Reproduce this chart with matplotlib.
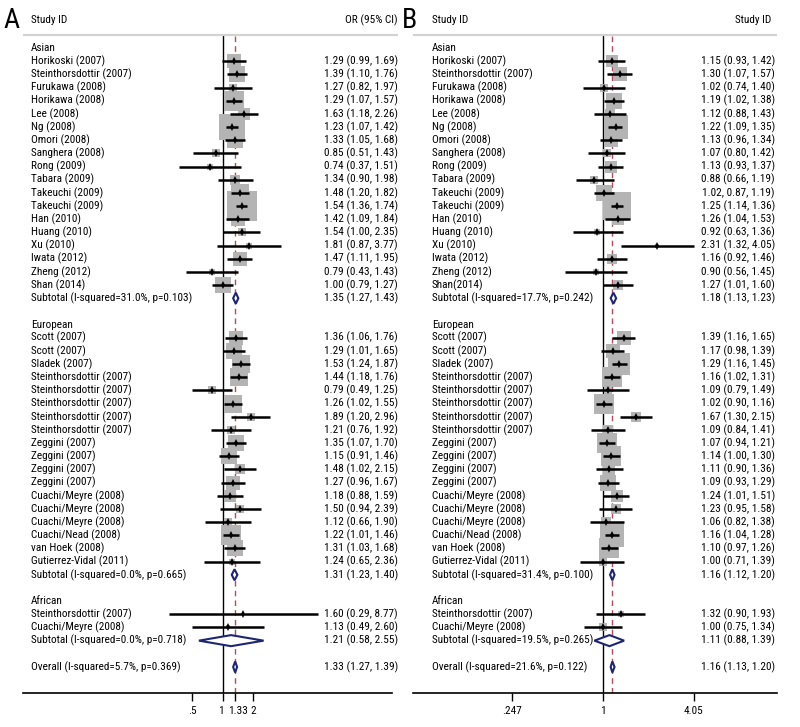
import numpy as np
import matplotlib
matplotlib.use('Agg')
import matplotlib.pyplot as plt
from matplotlib.patches import Polygon
import matplotlib.transforms as mtransforms
from matplotlib import font_manager as fm

# ---------------- Data: Panel A ----------------
A_asian_names = ['Horikoski (2007)', 'Steinthorsdottir (2007)', 'Furukawa (2008)', 'Horikawa (2008)',
                 'Lee (2008)', 'Ng (2008)', 'Omori (2008)', 'Sanghera (2008)', 'Rong (2009)',
                 'Tabara (2009)', 'Takeuchi (2009)', 'Takeuchi (2009)', 'Han (2010)', 'Huang (2010)',
                 'Xu (2010)', 'Iwata (2012)', 'Zheng (2012)', 'Shan (2014)']
A_asian_or = [1.29, 1.39, 1.27, 1.29, 1.63, 1.23, 1.33, 0.85, 0.74, 1.34, 1.48, 1.54, 1.42, 1.54, 1.81, 1.47, 0.79, 1.00]
A_asian_lo = [0.99, 1.10, 0.82, 1.07, 1.18, 1.07, 1.05, 0.51, 0.37, 0.90, 1.20, 1.36, 1.09, 1.00, 0.87, 1.11, 0.43, 0.79]
A_asian_hi = [1.69, 1.76, 1.97, 1.57, 2.26, 1.42, 1.68, 1.43, 1.51, 1.98, 1.82, 1.74, 1.84, 2.35, 3.77, 1.95, 1.43, 1.27]

A_euro_names = ['Scott (2007)', 'Scott (2007)', 'Sladek (2007)', 'Steinthorsdottir (2007)',
                'Steinthorsdottir (2007)', 'Steinthorsdottir (2007)', 'Steinthorsdottir (2007)',
                'Steinthorsdottir (2007)', 'Zeggini (2007)', 'Zeggini (2007)', 'Zeggini (2007)',
                'Zeggini (2007)', 'Cuachi/Meyre (2008)', 'Cuachi/Meyre (2008)', 'Cuachi/Meyre (2008)',
                'Cuachi/Nead (2008)', 'van Hoek (2008)', 'Gutierrez-Vidal (2011)']
A_euro_or = [1.36, 1.29, 1.53, 1.44, 0.79, 1.26, 1.89, 1.21, 1.35, 1.15, 1.48, 1.27, 1.18, 1.50, 1.12, 1.22, 1.31, 1.24]
A_euro_lo = [1.06, 1.01, 1.24, 1.18, 0.49, 1.02, 1.20, 0.76, 1.07, 0.91, 1.02, 0.96, 0.88, 0.94, 0.66, 1.01, 1.03, 0.65]
A_euro_hi = [1.76, 1.65, 1.87, 1.76, 1.25, 1.55, 2.96, 1.92, 1.70, 1.46, 2.15, 1.67, 1.59, 2.39, 1.90, 1.46, 1.68, 2.36]

A_afr_names = ['Steinthorsdottir (2007)', 'Cuachi/Meyre (2008)']
A_afr_or = [1.60, 1.13]
A_afr_lo = [0.29, 0.49]
A_afr_hi = [8.77, 2.60]

A_sub_labels = ['Subtotal (I-squared=31.0%, p=0.103)', 'Subtotal (I-squared=0.0%, p=0.665)',
                'Subtotal (I-squared=0.0%, p=0.718)']
A_sub_or = [1.35, 1.31, 1.21]
A_sub_lo = [1.27, 1.23, 0.58]
A_sub_hi = [1.43, 1.40, 2.55]

A_overall_label = 'Overall (I-squared=5.7%, p=0.369)'
A_overall = [1.33, 1.27, 1.39]
A_ticks = [0.5, 1, 1.33, 2]
A_ticklabels = ['.5', '1', '1.33', '2']
A_right_header = 'OR (95% CI)'

# ---------------- Data: Panel B ----------------
B_asian_names = ['Horikoski (2007)', 'Steinthorsdottir (2007)', 'Furukawa (2008)', 'Horikawa (2008)',
                 'Lee (2008)', 'Ng (2008)', 'Omori (2008)', 'Sanghera (2008)', 'Rong (2009)',
                 'Tabara (2009)', 'Takeuchi (2009)', 'Takeuchi (2009)', 'Han (2010)', 'Huang (2010)',
                 'Xu (2010)', 'Iwata (2012)', 'Zheng (2012)', 'Shan(2014)']
B_asian_or = [1.15, 1.30, 1.02, 1.19, 1.12, 1.22, 1.13, 1.07, 1.13, 0.88, 1.02, 1.25, 1.26, 0.92, 2.31, 1.16, 0.90, 1.27]
B_asian_lo = [0.93, 1.07, 0.74, 1.02, 0.88, 1.09, 0.96, 0.80, 0.93, 0.66, 0.87, 1.14, 1.04, 0.63, 1.32, 0.92, 0.56, 1.01]
B_asian_hi = [1.42, 1.57, 1.40, 1.38, 1.43, 1.35, 1.34, 1.42, 1.37, 1.19, 1.19, 1.36, 1.53, 1.36, 4.05, 1.46, 1.45, 1.60]

B_euro_names = list(A_euro_names)
B_euro_or = [1.39, 1.17, 1.29, 1.16, 1.09, 1.02, 1.67, 1.09, 1.07, 1.14, 1.11, 1.09, 1.24, 1.23, 1.06, 1.16, 1.10, 1.00]
B_euro_lo = [1.16, 0.98, 1.16, 1.02, 0.79, 0.90, 1.30, 0.84, 0.94, 1.00, 0.90, 0.93, 1.01, 0.95, 0.82, 1.04, 0.97, 0.71]
B_euro_hi = [1.65, 1.39, 1.45, 1.31, 1.49, 1.16, 2.15, 1.41, 1.21, 1.30, 1.36, 1.29, 1.51, 1.58, 1.38, 1.28, 1.26, 1.39]

B_afr_names = list(A_afr_names)
B_afr_or = [1.32, 1.00]
B_afr_lo = [0.90, 0.75]
B_afr_hi = [1.93, 1.34]

B_sub_labels = ['Subtotal (I-squared=17.7%, p=0.242)', 'Subtotal (I-squared=31.4%, p=0.100)',
                'Subtotal (I-squared=19.5%, p=0.265)']
B_sub_or = [1.18, 1.16, 1.11]
B_sub_lo = [1.13, 1.12, 0.88]
B_sub_hi = [1.23, 1.20, 1.39]

B_overall_label = 'Overall (I-squared=21.6%, p=0.122)'
B_overall = [1.16, 1.13, 1.20]
B_ticks = [0.247, 1, 4.05]
B_ticklabels = ['.247', '1', '4.05']
B_right_header = 'Study ID'
# value label exactly as printed in the source (typo kept)
B_label_override = {('Asian', 10): '1.02, 0.87, 1.19)'}


# ---------------- Font choice ----------------
def pick_font():
    names = {f.name for f in fm.fontManager.ttflist}
    for n in ['Liberation Sans Narrow', 'Roboto Condensed', 'Open Sans Condensed', 'Arial Narrow',
              'Noto Sans Condensed', 'DejaVu Sans Condensed']:
        if n in names:
            return fm.FontProperties(family=n)
    for f in fm.fontManager.ttflist:
        st = str(f.stretch).lower()
        fn = f.fname.lower()
        if ('condensed' in st and 'extra' not in st and 'ultra' not in st
                and f.style == 'normal' and str(f.weight) in ('400', 'normal', 'regular')
                and 'bold' not in fn and 'oblique' not in fn and 'italic' not in fn
                and 'mono' not in fn and 'serif' not in f.name.lower()):
            return fm.FontProperties(fname=f.fname)
    return fm.FontProperties(family=['Liberation Sans', 'DejaVu Sans'])


BASE_FP = pick_font()

# ---------------- Layout ----------------
W, H = 800, 727
fig = plt.figure(figsize=(W / 100, H / 100), dpi=100)
renderer = fig.canvas.get_renderer()

# fit text size so that a reference label has the same width as in the source
_fp = BASE_FP.copy()
_fp.set_size(10)
_t = fig.text(0, 0, 'Subtotal (I-squared=31.0%, p=0.103)', fontproperties=_fp)
_w = _t.get_window_extent(renderer).width
_t.remove()
FS = 10 * 160.0 / _w


def FP(size=None):
    p = BASE_FP.copy()
    p.set_size(FS if size is None else size)
    return p


ROW0_Y = 48.0
ROW_H = 13.17
TOP_Y = 35.0
BOT_Y = 693.0
SQ_COLOR = '#b4b4b4'
DIA_COLOR = '#1e2672'
DASH_COLOR = '#b5495e'


def fy(py):
    return 1 - py / H


def draw_panel(letter, letter_px, left_px, right_px, one_px, px_per_ln, name_px, val_px, head_right_px,
               header_right_px, right_header, groups, subs, overall, overall_label, ticks, ticklabels,
               tick_shift, k_box, overrides):
    ax = fig.add_axes([left_px / W, fy(BOT_Y), (right_px - left_px) / W, (BOT_Y - TOP_Y) / H])
    ax.set_xscale('log')
    ax.set_xlim(np.exp((left_px - one_px) / px_per_ln), np.exp((right_px - one_px) / px_per_ln))
    r_top = (TOP_Y - ROW0_Y) / ROW_H
    r_bot = (BOT_Y - ROW0_Y) / ROW_H
    ax.set_ylim(r_bot, r_top)
    for s in ['left', 'right', 'top']:
        ax.spines[s].set_visible(False)
    ax.spines['bottom'].set_linewidth(1.2)
    ax.set_yticks([])
    ax.set_xticks(ticks)
    ax.set_xticklabels(ticklabels)
    ax.xaxis.set_minor_locator(matplotlib.ticker.NullLocator())
    ax.tick_params(axis='x', length=6, width=1.0, pad=3)
    for lb, dx in zip(ax.get_xticklabels(), tick_shift):
        lb.set_fontproperties(FP())
        if dx:
            lb.set_transform(lb.get_transform() +
                             mtransforms.ScaledTranslation(dx / 100, 0, fig.dpi_scale_trans))
    ax.patch.set_alpha(0)

    # header line
    ax.plot([0, (header_right_px - left_px) / (right_px - left_px)], [1, 1], transform=ax.transAxes,
            color='#d2d2d2', lw=1.6, clip_on=False, solid_capstyle='butt')

    ax.axvline(1, color='black', lw=1.0, zorder=1)
    ax.axvline(overall[0], color=DASH_COLOR, lw=1.0, dashes=(4, 3), zorder=1)

    tr = mtransforms.blended_transform_factory(fig.transFigure, ax.transData)
    xn = name_px / W
    xv = val_px / W

    def lab(e, l, h):
        return f'{e:.2f} ({l:.2f}, {h:.2f})'

    def put(x, y, s, ha):
        ax.text(x, y, s, transform=tr, ha=ha, va='center', fontproperties=FP())

    row = 0
    for gi, (title, names, est, lo, hi) in enumerate(groups):
        put(xn, row, title, 'left')
        row += 1
        for i, nm in enumerate(names):
            side_px = k_box / np.log(hi[i] / lo[i])
            ax.plot([est[i]], [row], marker='s', ms=side_px * 72 / 100, mew=0,
                    color=SQ_COLOR, zorder=2, clip_on=False)
            ax.plot([lo[i], hi[i]], [row, row], color='black', lw=1.8, zorder=3,
                    solid_capstyle='butt')
            ax.plot([est[i]], [row], marker='d', ms=3.6, color='black', mew=0, zorder=4)
            put(xn, row, nm, 'left')
            put(xv, row, overrides.get((title, i), lab(est[i], lo[i], hi[i])), 'right')
            row += 1
        sl, se, slo, shi = subs[gi]
        ax.add_patch(Polygon([(slo, row), (se, row - 0.42), (shi, row), (se, row + 0.42)],
                             closed=True, fc='white', ec=DIA_COLOR, lw=1.5, zorder=5))
        put(xn, row, sl, 'left')
        put(xv, row, lab(se, slo, shi), 'right')
        row += 2
    oe, olo, ohi = overall
    ax.add_patch(Polygon([(olo, row), (oe, row - 0.42), (ohi, row), (oe, row + 0.42)],
                         closed=True, fc='white', ec=DIA_COLOR, lw=1.5, zorder=5))
    put(xn, row, overall_label, 'left')
    put(xv, row, lab(oe, olo, ohi), 'right')

    # headers
    fig.text(letter_px / W, fy(20), letter, ha='left', va='center', fontproperties=FP(FS * 2.5))
    fig.text(xn, fy(20), 'Study ID', ha='left', va='center', fontproperties=FP())
    fig.text(head_right_px / W, fy(20), right_header, ha='right', va='center', fontproperties=FP())
    return ax


groupsA = [('Asian', A_asian_names, A_asian_or, A_asian_lo, A_asian_hi),
           ('European', A_euro_names, A_euro_or, A_euro_lo, A_euro_hi),
           ('African', A_afr_names, A_afr_or, A_afr_lo, A_afr_hi)]
subsA = list(zip(A_sub_labels, A_sub_or, A_sub_lo, A_sub_hi))
groupsB = [('Asian', B_asian_names, B_asian_or, B_asian_lo, B_asian_hi),
           ('European', B_euro_names, B_euro_or, B_euro_lo, B_euro_hi),
           ('African', B_afr_names, B_afr_or, B_afr_lo, B_afr_hi)]
subsB = list(zip(B_sub_labels, B_sub_or, B_sub_lo, B_sub_hi))

draw_panel('A', 3, 23, 392, 222.7, 43.7, 31, 398, 398, 398, A_right_header, groupsA, subsA,
           A_overall, A_overall_label, A_ticks, A_ticklabels, [0, -1.5, 2.5, 0], 7.5, {})
draw_panel('B', 402, 413, 777, 602.7, 65.0, 432, 775, 771, 777, B_right_header, groupsB, subsB,
           B_overall, B_overall_label, B_ticks, B_ticklabels, [0, 0, 0], 5.0, B_label_override)

fig.savefig('out.png', dpi=100)
